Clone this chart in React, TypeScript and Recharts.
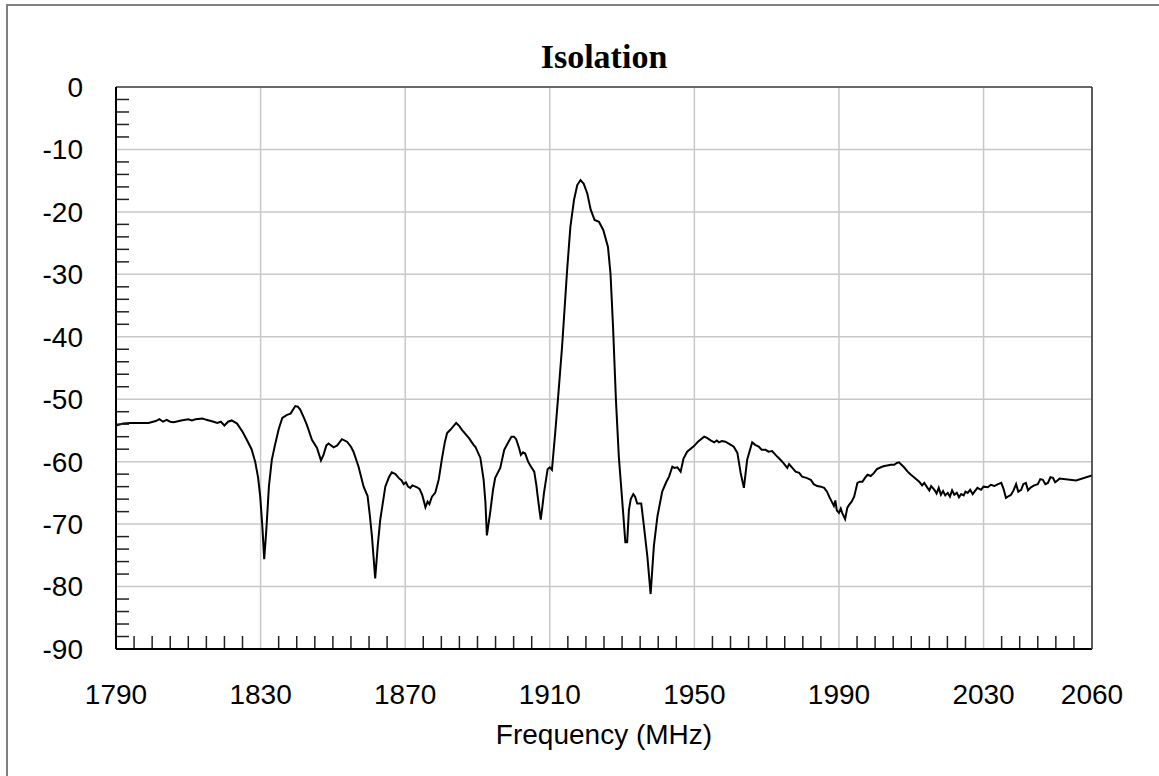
import { LineChart, Line, XAxis, YAxis, CartesianGrid } from "recharts";

// frequency points (MHz)
const freqMHz = [
  1790, 1792, 1794, 1797, 1799, 1801, 1802, 1803, 1804, 1805, 1806, 1808, 1810, 1811, 1812, 1814, 1815, 1817,
  1818, 1819, 1820, 1821, 1822, 1823.5, 1825, 1826, 1827.5, 1828.5, 1829.3, 1829.9, 1830.5, 1831, 1831.6, 1832.3,
  1833.1, 1834, 1835, 1836, 1837.3, 1838.3, 1839.6, 1840.3, 1841, 1842, 1842.8, 1844.2, 1845.6, 1846.7, 1847.4,
  1848.2, 1848.8, 1850.2, 1851.2, 1852.5, 1853.9, 1855, 1855.7, 1857.1, 1858.5, 1859.6, 1860.2, 1860.8, 1861.7,
  1862.4, 1863.1, 1864.5, 1865.5, 1866.3, 1867.3, 1868.2, 1869, 1869.6, 1870.2, 1870.8, 1871.4, 1872, 1873.3,
  1874, 1874.7, 1875.3, 1875.6, 1876.2, 1876.7, 1877.4, 1878.3, 1879, 1879.3, 1880.2, 1881, 1881.6, 1882.5,
  1884.1, 1885, 1885.7, 1887, 1887.6, 1889, 1889.4, 1890.8, 1891.7, 1892.2, 1892.6, 1893.5, 1894.3, 1894.9,
  1896.3, 1897.4, 1898.6, 1899.4, 1900.1, 1900.7, 1901.5, 1902, 1902.6, 1903.2, 1904, 1904.6, 1905.7, 1906.3,
  1906.6, 1907.2, 1907.5, 1908, 1908.4, 1909.4, 1910, 1910.6, 1911.5, 1912.4, 1913.4, 1914.8, 1915.7, 1916.7,
  1917.6, 1918.5, 1919.4, 1920.4, 1921.3, 1922.4, 1923.6, 1924.8, 1926.1, 1926.8, 1927.5, 1928.3, 1929.1,
  1930.3, 1930.9, 1931.4, 1931.9, 1932.4, 1933.1, 1933.6, 1934.2, 1935.3, 1935.9, 1937, 1937.9, 1938.8, 1939.8,
  1941.1, 1942.2, 1943, 1943.9, 1944.5, 1945.3, 1946.2, 1947, 1948, 1949.9, 1951, 1952.7, 1953.5, 1954.5,
  1955.5, 1956.2, 1956.8, 1957.6, 1958.6, 1959.5, 1960.9, 1961.9, 1962.8, 1963.7, 1964.6, 1966, 1966.8, 1967.8,
  1968.6, 1969.7, 1970.5, 1971.5, 1972.6, 1973.8, 1974.6, 1975.7, 1976.2, 1977.1, 1978, 1979, 1979.8, 1981,
  1982.2, 1983, 1984, 1985, 1985.9, 1986.7, 1987.3, 1988, 1988.6, 1989, 1989.4, 1990, 1990.5, 1990.9, 1991.7,
  1992.3, 1992.8, 1993.5, 1994.2, 1995.1, 1995.8, 1996.5, 1997.2, 1997.9, 1998.8, 1999.7, 2000.5, 2001.6,
  2002.5, 2003.4, 2004.3, 2005.3, 2006, 2006.6, 2007.3, 2008, 2009, 2009.9, 2011, 2012.2, 2013, 2013.6, 2014.5,
  2015, 2015.5, 2016.4, 2017, 2017.6, 2018.2, 2018.8, 2019.4, 2020.1, 2020.7, 2021.3, 2021.9, 2022.6, 2023.2,
  2023.8, 2024.5, 2025, 2025.6, 2026.3, 2027, 2027.5, 2028.3, 2029.3, 2030, 2031.2, 2032, 2033, 2034, 2034.9,
  2035.5, 2036.2, 2037, 2037.6, 2038.3, 2039, 2039.6, 2040.4, 2041, 2041.7, 2042.3, 2043.1, 2044, 2045, 2045.7,
  2046.4, 2047.1, 2047.8, 2048.5, 2049.2, 2049.8, 2050.5, 2051, 2055.6, 2060,
];

// isolation (dB) at each frequency point
const isolationDb = [
  -54.2, -53.9, -53.8, -53.8, -53.8, -53.5, -53.2, -53.6, -53.3, -53.6, -53.7, -53.4, -53.2, -53.4, -53.2, -53.1, -53.3, -53.6,
  -53.8, -53.6, -54.2, -53.6, -53.4, -53.9, -55.2, -56.3, -58.0, -60.0, -62.5, -65.6, -70.5, -75.6, -70.8, -64.0,
  -59.7, -57.3, -54.8, -53.0, -52.5, -52.3, -51.1, -51.2, -51.7, -53.0, -54.1, -56.5, -57.8, -59.8, -58.9,
  -57.4, -57.1, -57.7, -57.4, -56.4, -56.8, -57.6, -58.4, -60.8, -64.0, -65.5, -68.5, -71.9, -78.7,
  -73.5, -69.3, -64.0, -62.5, -61.7, -62.0, -62.6, -63.0, -63.6, -63.3, -64.0, -64.2, -63.8, -64.1,
  -64.4, -65.3, -66.6, -67.3, -66.4, -66.8, -65.6, -65.0, -63.5, -62.8, -59.4, -56.8, -55.4, -54.9,
  -53.8, -54.3, -54.9, -55.8, -56.2, -57.4, -57.6, -59.4, -62.9, -66.5, -71.8, -68.2, -64.5, -62.6,
  -61.0, -58.1, -56.8, -56.0, -56.0, -56.4, -57.8, -58.9, -58.5, -58.7, -60.0, -60.6, -61.6, -63.8,
  -65.3, -68.0, -69.3, -67.0, -65.0, -61.2, -60.9, -61.3, -55.4, -49.0, -41.6, -29.3, -22.4, -18.1,
  -15.7, -14.9, -15.5, -17.1, -19.6, -21.3, -21.6, -22.9, -25.6, -29.9, -38.4, -50.1, -59.2,
  -68.2, -72.9, -72.9, -67.7, -66.0, -65.2, -65.6, -66.7, -66.7, -69.6, -75.2, -81.2, -73.5, -68.7,
  -64.8, -63.3, -62.4, -60.8, -61.0, -60.9, -61.6, -59.5, -58.4, -57.5, -56.8, -56.0, -56.2, -56.6,
  -56.9, -56.6, -56.9, -56.7, -56.8, -57.1, -57.6, -58.6, -61.8, -64.2, -59.7, -56.9, -57.3, -57.6,
  -58.1, -58.1, -58.4, -58.3, -59.0, -59.7, -60.2, -61.0, -60.4, -61.0, -61.6, -61.8, -62.4, -62.6,
  -62.9, -63.6, -63.9, -64.0, -64.2, -64.8, -65.6, -66.4, -67.1, -66.2, -67.8, -68.2, -67.5, -68.2, -69.2,
  -67.4, -66.9, -66.4, -65.6, -63.4, -63.2, -63.2, -62.6, -62.1, -62.3, -61.8, -61.2, -60.9,
  -60.7, -60.6, -60.5, -60.5, -60.2, -60.1, -60.5, -60.9, -61.6, -62.1, -62.6, -63.2, -63.8, -63.4, -64.2,
  -64.6, -63.9, -64.5, -65.1, -64.2, -65.3, -64.7, -65.4, -65.0, -65.6, -64.6, -65.3, -65.0, -65.7,
  -65.2, -65.4, -64.8, -65.0, -64.5, -65.2, -64.8, -64.2, -64.5, -64.0, -64.1, -63.7, -63.9, -63.6, -63.4,
  -64.3, -65.8, -65.5, -65.3, -64.6, -63.6, -64.8, -64.5, -63.6, -63.4, -64.6, -64.1, -63.8, -63.6, -62.8,
  -62.9, -63.6, -63.4, -62.5, -62.6, -63.3, -63.0, -62.7, -63.0, -62.2,
];

const xTicks = [1790, 1830, 1870, 1910, 1950, 1990, 2030, 2060];
const xMinorTicks = [
  1795, 1800, 1805, 1810, 1815, 1820, 1825, 1835, 1840, 1845, 1850, 1855, 1860, 1865,
  1875, 1880, 1885, 1890, 1895, 1900, 1905, 1915, 1920, 1925, 1930, 1935, 1940, 1945,
  1955, 1960, 1965, 1970, 1975, 1980, 1985, 1995, 2000, 2005, 2010, 2015, 2020, 2025,
  2035, 2040, 2045, 2050, 2055,
];
const yTicks = [0, -10, -20, -30, -40, -50, -60, -70, -80, -90];
const yMinorTicks = [
  -2, -4, -6, -8, -12, -14, -16, -18, -22, -24, -26, -28, -32, -34, -36, -38, -42, -44, -46, -48,
  -52, -54, -56, -58, -62, -64, -66, -68, -72, -74, -76, -78, -82, -84, -86, -88,
];

const data = freqMHz.map((f, i) => ({ f, v: isolationDb[i] }));

const sans = "'Liberation Sans', Arial, sans-serif";
const tickStyle = { fontSize: 28, fill: "#000", fontFamily: sans };
const noLabel = () => "";

export default function App() {
  return (
    <div style={{ position: "fixed", left: 0, top: 0, width: 1159, height: 776, background: "#fff" }}>
      <div
        style={{
          position: "absolute",
          left: 6,
          top: 4,
          width: 1153,
          height: 772,
          boxSizing: "border-box",
          borderLeft: "2px solid #808080",
          borderTop: "2px solid #808080",
        }}
      />
      <div style={{ position: "absolute", left: 8, top: 8, width: 1151, height: 768 }}>
        <LineChart
          width={1151}
          height={768}
          data={data}
          margin={{ top: 78, right: 66, bottom: 126, left: 0 }}
        >
          <CartesianGrid stroke="#c8c8c8" strokeWidth={1.5} />
          <XAxis
            xAxisId="minor"
            dataKey="f"
            type="number"
            domain={[1790, 2060]}
            allowDataOverflow
            ticks={xMinorTicks}
            interval={0}
            mirror
            height={1}
            tickFormatter={noLabel}
            axisLine={false}
            tickSize={13}
            tickLine={{ stroke: "#222", strokeWidth: 1.5 }}
          />
          <XAxis
            xAxisId="top"
            dataKey="f"
            orientation="top"
            type="number"
            domain={[1790, 2060]}
            allowDataOverflow
            height={1}
            tick={false}
            tickLine={false}
            axisLine={{ stroke: "#444", strokeWidth: 1.5 }}
            label={{
              value: "Isolation",
              position: "top",
              offset: 18,
              fontSize: 34,
              fontWeight: "bold",
              fontFamily: "'Liberation Serif', 'Times New Roman', serif",
              fill: "#000",
            }}
          />
          <XAxis
            dataKey="f"
            type="number"
            domain={[1790, 2060]}
            allowDataOverflow
            ticks={xTicks}
            interval={0}
            height={1}
            tickLine={false}
            tickSize={0}
            tickMargin={35}
            tick={tickStyle}
            axisLine={{ stroke: "#000", strokeWidth: 2 }}
            label={{
              value: "Frequency (MHz)",
              position: "bottom",
              offset: 74,
              fontSize: 28,
              fontFamily: sans,
              fill: "#000",
            }}
          />
          <YAxis
            yAxisId="minor"
            type="number"
            domain={[-90, 0]}
            allowDataOverflow
            ticks={yMinorTicks}
            interval={0}
            mirror
            width={1}
            tickFormatter={noLabel}
            axisLine={false}
            tickSize={13}
            tickLine={{ stroke: "#222", strokeWidth: 1.5 }}
          />
          <YAxis
            yAxisId="right"
            orientation="right"
            type="number"
            domain={[-90, 0]}
            allowDataOverflow
            width={1}
            tick={false}
            tickLine={false}
            axisLine={{ stroke: "#333", strokeWidth: 1.5 }}
          />
          <YAxis
            type="number"
            domain={[-90, 0]}
            allowDataOverflow
            ticks={yTicks}
            interval={0}
            width={108}
            tickLine={false}
            tickSize={0}
            tickMargin={33}
            tick={tickStyle}
            axisLine={{ stroke: "#000", strokeWidth: 2 }}
          />
          <Line
            type="linear"
            dataKey="v"
            stroke="#000"
            strokeWidth={2}
            dot={false}
            isAnimationActive={false}
          />
        </LineChart>
      </div>
    </div>
  );
}
